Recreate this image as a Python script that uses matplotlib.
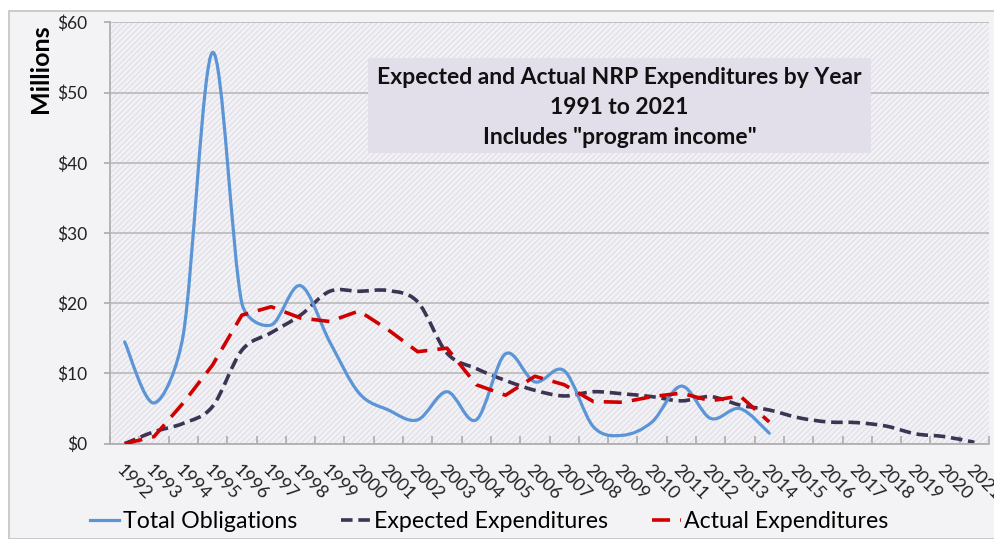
import numpy as np
import matplotlib
matplotlib.use("Agg")
import matplotlib.pyplot as plt
from matplotlib.path import Path
from matplotlib.patches import PathPatch, Rectangle

plt.rcParams['font.family'] = ['Lato', 'DejaVu Sans']
plt.rcParams['hatch.color'] = '#dddce3'
plt.rcParams['hatch.linewidth'] = 0.7

years = [str(y) for y in range(1992, 2022)]

# values in $ millions
total_obligations = [14.5, 5.8, 15.5, 55.7, 20.0, 16.9, 22.5, 14.5, 7.2, 4.8, 3.4, 7.4,
                     3.4, 12.8, 8.8, 10.4, 2.4, 1.2, 3.1, 8.2, 3.6, 5.0, 1.5]
expected = [0.0, 1.7, 2.9, 5.3, 13.3, 15.8, 18.3, 21.7, 21.7, 21.8, 20.2, 12.9,
            10.7, 9.0, 7.6, 6.8, 7.4, 7.1, 6.7, 6.1, 6.7, 5.5, 4.8, 3.7, 3.1,
            3.0, 2.5, 1.4, 1.0, 0.2]
actual = [0.0, 1.0, 5.8, 11.2, 18.3, 19.5, 17.9, 17.4, 18.9, 16.2, 13.1, 13.6,
          8.4, 6.9, 9.6, 8.4, 6.0, 5.9, 6.7, 7.2, 6.1, 6.8, 3.1]

c_blue = '#5b95d6'
c_purple = '#3d3353'
c_red = '#d00000'


def smooth_path(xs, ys, sx=29.3, sy=7.02, clip=0.45):
    # Excel-style smoothed line: cubic bezier through every point,
    # control arms limited so steep drops don't overshoot
    pts = np.column_stack([np.asarray(xs, float) * sx, np.asarray(ys, float) * sy])
    n = len(pts)
    verts = [pts[0]]
    codes = [Path.MOVETO]
    for i in range(n - 1):
        p0 = pts[max(i - 1, 0)]
        p1 = pts[i]
        p2 = pts[i + 1]
        p3 = pts[min(i + 2, n - 1)]
        seg = np.hypot(*(p2 - p1))
        t1 = (p2 - p0) / 6
        t2 = (p3 - p1) / 6
        for t in (t1, t2):
            ln = np.hypot(*t)
            if ln > clip * seg:
                t *= clip * seg / ln
        verts += [p1 + t1, p2 - t2, p2]
        codes += [Path.CURVE4] * 3
    verts = np.array(verts) / [sx, sy]
    return Path(verts, codes)


fig = plt.figure(figsize=(9.95, 5.39), dpi=100, facecolor='white')

# chart area background
fig.patches.append(Rectangle((9 / 995, 0), 986 / 995, 528 / 539, transform=fig.transFigure,
                             facecolor='#f3f3f5', edgecolor='#c4c4c4', linewidth=1.2,
                             zorder=-10))

ax = fig.add_axes([110 / 995, 1 - 443.7 / 539, 879 / 995, (443.7 - 22.3) / 539])
ax.set_facecolor('#f2f1f6')
ax.add_patch(Rectangle((0, 0), 1, 1, transform=ax.transAxes, facecolor='none',
                       edgecolor='#dddce3', linewidth=0, hatch='//////', zorder=0))
ax.set_xlim(-0.5, len(years) - 0.5)
ax.set_ylim(0, 60)

ax.yaxis.grid(True, color='#bdbdbd', linewidth=1.3)
ax.set_axisbelow(True)
for s in ['top', 'right']:
    ax.spines[s].set_visible(False)
for s in ['left', 'bottom']:
    ax.spines[s].set_color('#b0b0b0')
    ax.spines[s].set_linewidth(1.3)

ax.set_yticks(range(0, 61, 10))
ax.set_yticklabels(['$%d' % v for v in range(0, 61, 10)], fontsize=12.5, color='#222222')
ax.tick_params(axis='y', length=4.3, color='#b0b0b0', width=1.3, pad=12)

ax.set_xticks(np.arange(-0.5, len(years), 1.0))
ax.set_xticklabels([])
ax.tick_params(axis='x', which='major', length=6, color='#b0b0b0', width=1.3, direction='in')
ax.set_xticks(np.arange(len(years)), minor=True)
ax.set_xticklabels(years, minor=True, rotation=-45, ha='left', va='top',
                   rotation_mode='anchor', fontsize=13, color='#222222')
ax.tick_params(axis='x', which='minor', length=0, pad=13)

ax.set_ylabel('Millions', fontsize=18, fontweight='bold')
ax.yaxis.set_label_coords(-0.066, 0.89)

x_tot = np.arange(len(total_obligations))
x_exp = np.arange(len(expected))
x_act = np.arange(len(actual))

ax.add_patch(PathPatch(smooth_path(x_tot, total_obligations), fill=False,
                       edgecolor=c_blue, linewidth=2.3, capstyle='round', zorder=3))
ax.add_patch(PathPatch(smooth_path(x_exp, expected), fill=False, edgecolor=c_purple,
                       linewidth=2.6, linestyle=(0, (3.2, 1.6)), zorder=2))
ax.plot(x_act, actual, color=c_red, linewidth=2.6, dashes=(5, 2.8), zorder=4)

# legend proxies
h1, = ax.plot([], [], color=c_blue, linewidth=2.3, label='Total Obligations')
h2, = ax.plot([], [], color=c_purple, linewidth=2.6, dashes=(3.2, 1.6), label='Expected Expenditures')
h3, = ax.plot([], [], color=c_red, linewidth=2.6, dashes=(5, 2.8), label='Actual Expenditures')
fig.legend(handles=[h1, h2, h3], loc='center', bbox_to_anchor=(489.5 / 995, 1 - 522 / 539),
           ncol=3, frameon=False, fontsize=16.7, handlelength=1.25, handletextpad=0.15,
           columnspacing=1.9, borderaxespad=0)

# title box
fig.patches.append(Rectangle((368 / 995, 1 - 153 / 539), 503 / 995, 95 / 539,
                             transform=fig.transFigure, facecolor='#e3dfea',
                             edgecolor='none', zorder=5))
title_lines = ['Expected and Actual NRP Expenditures by Year', '1991 to 2021',
               'Includes "program income"']
for i, t in enumerate(title_lines):
    fig.text(619.5 / 995, 1 - (78 + 30 * i) / 539, t, ha='center', va='center',
             fontsize=16.5, fontweight='bold', color='#111111', zorder=6)

fig.savefig('out.png', dpi=100, facecolor=fig.get_facecolor())
